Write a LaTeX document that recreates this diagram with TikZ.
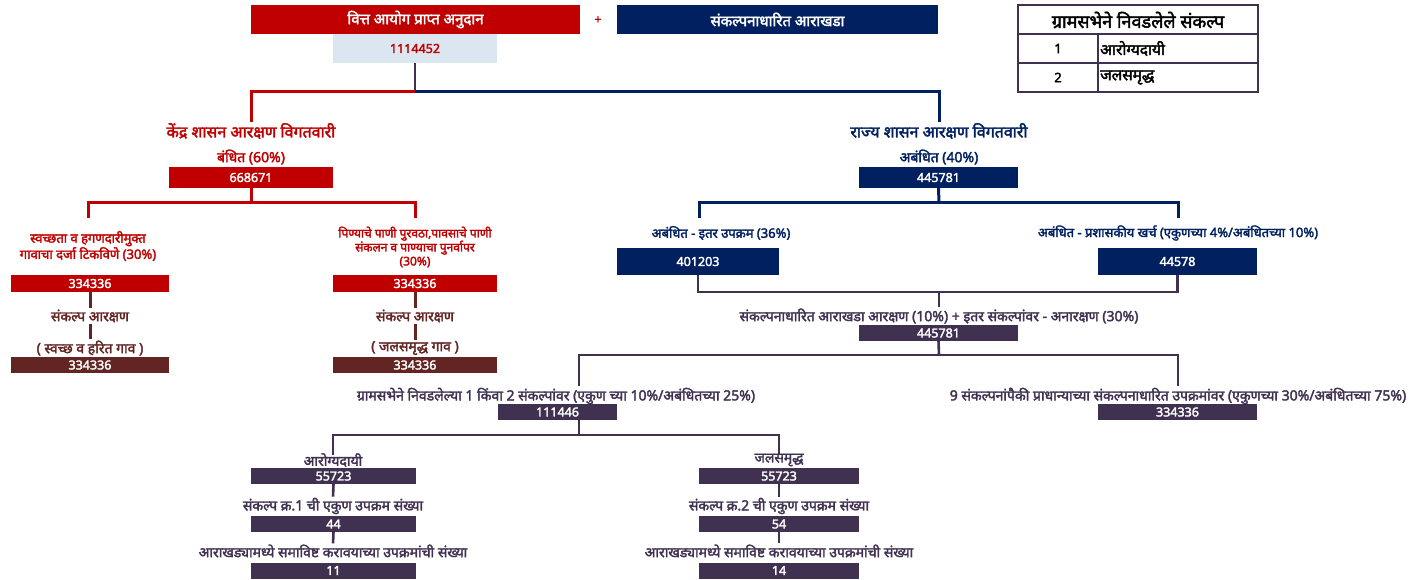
\documentclass[tikz,border=0pt]{standalone}
\usepackage{fontspec}
\setmainfont{Noto Sans}
\newfontfamily\dev[Script=Devanagari,AutoFakeBold=2.4]{Noto Sans}
\definecolor{vred}{HTML}{C00000}
\definecolor{vnavy}{HTML}{002060}
\definecolor{vplum}{HTML}{403151}
\definecolor{vbrown}{HTML}{632523}
\definecolor{vpale}{HTML}{DCE6F1}
\begin{document}
\begin{tikzpicture}
[x=1pt,y=-1pt,
box/.style={rectangle,draw=none,inner sep=0pt,text=white,font=\dev\bfseries\fontsize{12.5}{14}\selectfont},
redbox/.style={box,fill=vred},
navybox/.style={box,fill=vnavy},
plumbox/.style={box,fill=vplum},
brownbox/.style={box,fill=vbrown},
lbl/.style={draw=none,fill=none,inner sep=1pt,align=center,font=\dev\bfseries\fontsize{14}{16}\selectfont},
small/.style={lbl,font=\dev\bfseries\fontsize{13}{15}\selectfont},
big/.style={lbl,font=\dev\bfseries\fontsize{16}{18}\selectfont},
redline/.style={draw=vred,line width=3pt},
navyline/.style={draw=vnavy,line width=3pt},
plumline/.style={draw=vplum,line width=2.6pt},
brownline/.style={draw=vbrown,line width=3pt},
tabline/.style={draw=vplum,line width=2pt}
]
\path[fill=white] (0,0) rectangle (1418,580);

% top row
\node[redbox,minimum width=329pt,minimum height=29pt,font=\dev\bfseries\fontsize{15}{17}\selectfont] (grant) at (415.5,19.5){वित्त आयोग प्राप्त अनुदान};
\node[lbl,text=vred,font=\dev\bfseries\fontsize{12}{14}\selectfont] (plus) at (598,20){+};
\node[navybox,minimum width=321pt,minimum height=29pt,font=\dev\bfseries\fontsize{15}{17}\selectfont] (concept) at (777.5,19.5){संकल्पनाधारित आराखडा};
\node[box,fill=vpale,text=vred,minimum width=164pt,minimum height=29pt] (total) at (415,48.5){1114452};

% table
\draw[tabline] (1018,5) rectangle (1258,92);
\draw[tabline] (1018,34) -- (1258,34);
\draw[tabline] (1018,63) -- (1258,63);
\draw[tabline] (1098,34) -- (1098,92);
\node[big,text=black,font=\dev\bfseries\fontsize{18}{20}\selectfont] (thead) at (1138,20){ग्रामसभेने निवडलेले संकल्प};
\node[lbl,text=black,font=\dev\bfseries\fontsize{13}{15}\selectfont] (tnoa) at (1058,48.5){1};
\node[lbl,text=black,anchor=west,font=\dev\bfseries\fontsize{15.5}{17}\selectfont] (tcona) at (1099,48.5){आरोग्यदायी};
\node[lbl,text=black,font=\dev\bfseries\fontsize{13}{15}\selectfont] (tnob) at (1058,77.5){2};
\node[lbl,text=black,anchor=west,font=\dev\bfseries\fontsize{15.5}{17}\selectfont] (tconb) at (1099,77.5){जलसमृद्ध};

% split of grant
\coordinate (gsplit) at (415,92);
\node[big,text=vred] (central) at (251,131){केंद्र शासन आरक्षण विगतवारी};
\node[big,text=vnavy] (state) at (939,131){राज्य शासन आरक्षण विगतवारी};
\draw[plumline] (total.south) -- (gsplit);
\draw[redline] (gsplit) -| (central.north);
\draw[navyline] (gsplit) -| (state.north);

% central share
\node[lbl,text=vred] (tied) at (251,157){बंधित (60\%)};
\node[redbox,minimum width=164pt,minimum height=21pt] (tiedbox) at (251,177.5){668671};
\coordinate (tsplit) at (251,203);
\coordinate (swtop) at (88,218);
\coordinate (wwtop) at (415,218);
\draw[redline] (tiedbox.south) -- (tsplit);
\draw[redline] (swtop) |- (tsplit) -| (wwtop);

\node[small,text=vred] (swlabel) at (88,246){स्वच्छता व हगणदारीमुक्त\\गावाचा दर्जा टिकविणे (30\%)};
\node[small,text=vred,font=\dev\bfseries\fontsize{12}{14}\selectfont] (wwlabel) at (415,247){पिण्याचे पाणी पुरवठा,पावसाचे पाणी\\संकलन व पाण्याचा पुनर्वापर\\(30\%)};
\node[redbox,minimum width=158pt,minimum height=17pt] (swbox) at (90,283.5){334336};
\node[redbox,minimum width=164pt,minimum height=17pt] (wwbox) at (415,283.5){334336};

\node[lbl,text=vbrown] (swres) at (90,316){संकल्प आरक्षण};
\node[lbl,text=vbrown] (swname) at (90,348){( स्वच्छ व हरित गाव )};
\node[brownbox,minimum width=158pt,minimum height=16pt] (swfinal) at (90,365){334336};
\draw[brownline] (swbox.south) -- (swres.north);
\draw[brownline] (swres.south) -- (swname.north);

\node[lbl,text=vbrown] (wwres) at (415,316){संकल्प आरक्षण};
\node[lbl,text=vbrown] (wwname) at (415,348){( जलसमृद्ध गाव )};
\node[brownbox,minimum width=164pt,minimum height=16pt] (wwfinal) at (415,365){334336};
\draw[brownline] (wwbox.south) -- (wwres.north);
\draw[brownline] (wwres.south) -- (wwname.north);

% state share
\node[lbl,text=vnavy] (untied) at (939,157){अबंधित (40\%)};
\node[navybox,minimum width=159pt,minimum height=21pt] (untiedbox) at (938.5,177.5){445781};
\coordinate (usplit) at (939,203);
\coordinate (ottop) at (699,218);
\coordinate (adtop) at (1178,218);
\draw[navyline] (untiedbox.south) -- (usplit);
\draw[navyline] (ottop) |- (usplit) -| (adtop);

\node[small,text=vnavy] (otlabel) at (721,233){अबंधित - इतर उपक्रम (36\%)};
\node[small,text=vnavy] (adlabel) at (1178,233){अबंधित - प्रशासकीय खर्च (एकुणच्या 4\%/अबंधितच्या 10\%)};
\node[navybox,minimum width=162pt,minimum height=27pt] (otbox) at (698,261.5){401203};
\node[navybox,minimum width=159pt,minimum height=27pt] (adbox) at (1177.5,261.5){44578};

\coordinate (pjoin) at (939,292);
\node[lbl,text=vplum] (plan) at (939,316){संकल्पनाधारित आराखडा आरक्षण (10\%) + इतर संकल्पांवर - अनारक्षण (30\%)};
\node[plumbox,minimum width=159pt,minimum height=16pt] (planbox) at (938.5,333){445781};
\draw[plumline] (otbox.south) |- (pjoin) -| (adbox.south);
\draw[plumline] (pjoin) -- (plan.north);

\coordinate (psplit) at (939,355);
\coordinate (gstop) at (579,386);
\coordinate (ninetop) at (1178,386);
\draw[plumline] (planbox.south) -- (psplit);
\draw[plumline] (gstop) |- (psplit) -| (ninetop);

\node[lbl,text=vplum] (gslabel) at (556,396){ग्रामसभेने निवडलेल्या 1 किंवा 2 संकल्पांवर (एकुण च्या 10\%/अबंधितच्या 25\%)};
\node[plumbox,minimum width=119pt,minimum height=16pt] (gsbox) at (557.5,412){111446};
\node[lbl,text=vplum] (ninelabel) at (1178,396){9 संकल्पनांपैकी प्राधान्याच्या संकल्पनाधारित उपक्रमांवर (एकुणच्या 30\%/अबंधितच्या 75\%)};
\node[plumbox,minimum width=159pt,minimum height=16pt] (ninebox) at (1177.5,412){334336};

% selected concepts
\coordinate (hsplit) at (579,435);
\coordinate (hltop) at (333,455);
\coordinate (wrtop) at (779,455);
\draw[plumline] (gsbox.south -| hsplit) -- (hsplit);
\draw[plumline] (hltop) |- (hsplit) -| (wrtop);

\node[lbl,text=vplum] (hlname) at (333,460){आरोग्यदायी};
\node[plumbox,minimum width=165pt,minimum height=16pt] (hlbox) at (333.5,476){55723};
\node[lbl,text=vplum] (hlcount) at (333,506){संकल्प क्र.1 ची एकुण उपक्रम संख्या};
\node[plumbox,minimum width=165pt,minimum height=16pt] (hlcbox) at (333.5,524){44};
\node[lbl,text=vplum] (hlplan) at (333,551){आराखड्यामध्ये समाविष्ट करावयाच्या उपक्रमांची संख्या};
\node[plumbox,minimum width=165pt,minimum height=16pt] (hlpbox) at (333.5,570.5){11};
\draw[plumline] (hlbox.south) -- (hlcount.north);
\draw[plumline] (hlcbox.south) -- (hlplan.north);

\node[lbl,text=vplum] (wrname) at (779,460){जलसमृद्ध};
\node[plumbox,minimum width=160pt,minimum height=16pt] (wrbox) at (779,476){55723};
\node[lbl,text=vplum] (wrcount) at (779,506){संकल्प क्र.2 ची एकुण उपक्रम संख्या};
\node[plumbox,minimum width=160pt,minimum height=16pt] (wrcbox) at (779,524){54};
\node[lbl,text=vplum] (wrplan) at (779,551){आराखड्यामध्ये समाविष्ट करावयाच्या उपक्रमांची संख्या};
\node[plumbox,minimum width=160pt,minimum height=16pt] (wrpbox) at (779,570.5){14};
\draw[plumline] (wrbox.south) -- (wrcount.north);
\draw[plumline] (wrcbox.south) -- (wrplan.north);
\end{tikzpicture}
\end{document}
